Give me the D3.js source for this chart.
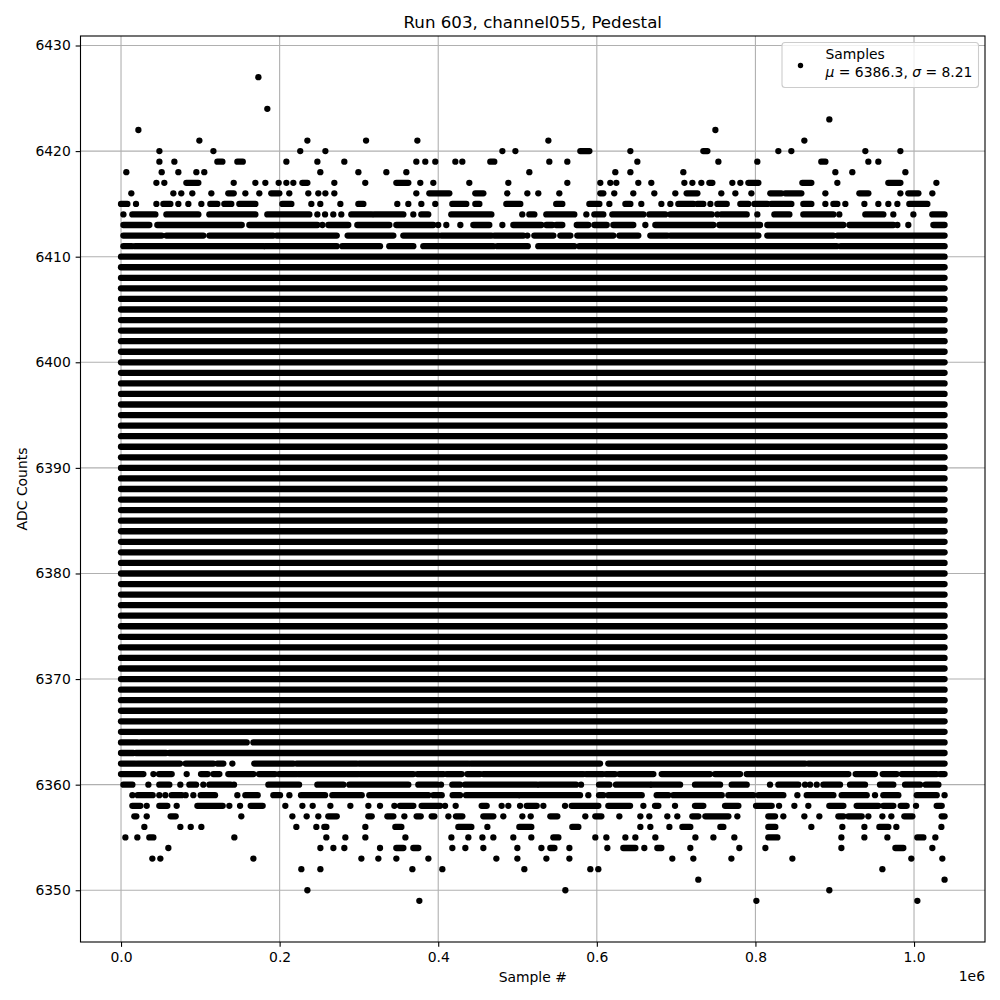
<!DOCTYPE html>
<html><head><meta charset="utf-8">
<script src="https://cdn.jsdelivr.net/npm/d3@7"></script>
<style>body{margin:0;background:#fff}</style>
</head><body><svg id="c" width="1000" height="1000"></svg>
<script>
// ---------------- data ----------------
const titleText = "Run 603, channel055, Pedestal";
const xLabel = "Sample #";
const yLabel = "ADC Counts";
const xOffsetLabel = "1e6";
const legendLine1 = "Samples";
const legendMu = "6386.3";
const legendSigma = "8.21";
const xTicks = [0.0, 0.2, 0.4, 0.6, 0.8, 1.0];           // in units of 1e6 samples
const yTicks = [6350, 6360, 6370, 6380, 6390, 6400, 6410, 6420, 6430];
// ADC levels occupied continuously over the whole run
const solidLevels = [6365,6366,6367,6368,6369,6370,6371,6372,6373,6374,6375,6376,6377,6378,6379,6380,
  6381,6382,6383,6384,6385,6386,6387,6388,6389,6390,6391,6392,6393,6394,6395,6396,6397,6398,6399,6400,
  6401,6402,6403,6404,6405,6406,6407,6408,6409,6410];
const runSpan = [0, 1.0385];   // first / last sample (x 1e6)
// sparse levels: number = isolated sample, [a,b] = run of overlapping samples (x 1e6)
const upperRows = [
 [6411, [[0.003,0.0135],[0.0177,0.1795],[0.182,0.272],[0.279,0.3266],[0.3383,0.3686],[0.3812,0.4695],[0.4745,0.5129],[0.5262,0.5716],[0.5779,0.9025],[0.9075,1.0385]]],
 [6412, [[0.003,0.0513],[0.0572,0.1038],[0.1114,0.192],[0.1963,0.272],[0.2858,0.3434],[0.356,0.4001],[0.4039,0.467],[0.4707,0.5073],0.5124,[0.5212,0.5452],[0.554,0.5666],[0.5754,0.6208],[0.6284,0.6523],[0.6675,0.6889],[0.6927,0.8037],[0.815,0.8983],[0.9033,1.0385]]],
 [6413, [[0.003,0.0357],[0.0458,0.1522],[0.1618,0.2476],0.2539,[0.2614,0.2866],[0.298,0.3384],[0.3472,0.3938],0.4,0.4102,0.4279,[0.4443,0.4644],0.4809,[0.4947,0.53],[0.5363,0.5439],[0.5488,0.5565],[0.5747,0.5893],[0.5969,0.6125],[0.6208,0.646],0.6612,[0.6738,0.747],[0.7545,0.8058],[0.815,0.9109],[0.9185,0.9739],0.979,0.9928,[1.0244,1.0385]]],
 [6414, [0.003,[0.0143,0.0433],[0.0572,0.0975],[0.1114,0.1694],[0.1845,0.2375],0.2476,0.2573,0.2677,0.2778,[0.2904,0.3161],[0.3195,0.356],0.3686,[0.3787,0.3874],[0.4165,0.467],0.506,[0.5149,0.5212],[0.5363,0.5716],0.5868,[0.5969,0.6082],[0.6196,0.6587],[0.6662,0.6864],[0.6927,0.7449],0.752,[0.757,0.789],0.8024,[0.8239,0.8428],[0.8604,0.8983],0.9058,[0.9386,0.9613],0.9739,0.9992,[1.0231,1.0385]]],
 [6415, [[0.0,0.008],0.0189,0.0446,[0.0534,0.0622],0.0723,0.0849,0.1013,[0.1126,0.1215],[0.1303,0.1391],[0.1492,0.1694],[0.2034,0.2148],0.24,0.2513,0.2766,[0.2993,0.3056],0.3484,0.3623,0.3787,0.3963,[0.4178,0.4354],[0.4468,0.4519],[0.4859,0.5035],[0.5488,0.5565],[0.5906,0.6032],0.6158,[0.636,0.6423],0.6561,0.6814,0.6927,[0.7028,0.7217],[0.7268,0.7343],0.7432,[0.752,0.7638],[0.781,0.7911],[0.7987,0.815],[0.8201,0.8453],[0.8604,0.8705],0.8882,[0.8983,0.9033],0.9134,0.9374,0.955,0.9676,0.979,[0.9941,1.0168]]],
 [6416, [0.013,0.066,0.076,0.0899,0.1139,[0.1353,0.1421],0.1568,0.1744,[0.1895,0.1996],0.2122,0.2362,0.2488,0.2577,0.269,0.3724,[0.3888,0.414],[0.4468,0.4569],0.4871,0.5124,0.5262,0.5527,[0.6044,0.6082],0.622,0.646,0.6725,0.699,[0.7133,0.7268],0.757,0.7747,0.7949,[0.8188,0.8327],[0.8377,0.8579],0.8882,[0.9311,0.9424],0.9828,[0.9928,1.0055],1.0231]],
 [6417, [0.0446,0.0546,[0.0824,0.0975],0.1421,0.1694,0.182,0.1988,0.2085,0.2173,[0.2287,0.235],0.269,0.308,[0.3472,0.3623],0.3774,0.3938,0.4392,0.4884,0.5628,0.6044,0.617,0.6246,0.6523,0.6687,0.7104,0.7205,0.7318,[0.7419,0.7457],0.7709,0.781,[0.7911,0.8037],[0.8592,0.8705],0.9033,[0.9676,0.9828],1.0282]],
 [6418, [0.0067,0.0513,0.0723,0.095,0.105,0.2513,0.2993,0.3346,0.3598,0.5149,0.6233,0.6423,0.7091,0.9008,0.9222,0.9891]],
 [6419, [0.0484,0.0673,[0.1215,0.1278],[0.1467,0.1535],0.2085,0.2476,0.2816,0.3724,0.3837,0.3963,0.4216,0.4304,[0.4657,0.4707],0.5401,0.5628,0.6511,0.7533,0.8024,[0.8831,0.8882],0.9424,0.955]],
 [6420, [0.0484,0.1165,0.226,0.2577,0.4809,0.4973,[0.5792,0.5906],0.6423,[0.7343,0.7394],0.8289,0.8453,0.9386,0.9828]],
 [6421, [0.0988,0.235,0.309,0.3737,0.5389,0.8617]],
 [6422, [0.0219,0.7495]],
 [6423, [0.8932]],
 [6424, [0.1845]],
 [6427, [0.1732]]
];
const lowerRows = [
 [6364, [[0,0.0206],[0.0248,0.1585],[0.1669,1.0385]]],
 [6363, [[0,0.0156],[0.0189,0.0567],[0.0609,1.0385]]],
 [6362, [[0,0.0177],[0.0206,0.0744],[0.0815,0.1164],[0.1215,0.129],0.1404,[0.1681,0.2173],[0.2215,0.2972],[0.3005,0.438],[0.441,0.604],[0.6145,0.8626],[0.8667,1.0385]]],
 [6361, [[0,0.0282],0.0408,[0.0479,0.0639],0.0828,[0.1009,0.1093],[0.1164,0.124],[0.1353,0.1669],[0.174,0.1942],[0.1992,0.2215],[0.2236,0.2993],[0.3014,0.3686],[0.3737,0.4065],[0.4107,0.4296],[0.4367,0.4527],[0.4569,0.583],[0.5864,0.6074],[0.6116,0.623],[0.6284,0.6713],[0.6818,0.7427],[0.749,0.7806],[0.789,0.9172],[0.9264,0.9508],[0.9605,0.9781],[0.9845,1.0286],[1.0328,1.0385]]],
 [6360, [[0.003,0.0143],0.0345,[0.0483,0.0609],0.0748,[0.0862,0.0946],0.1038,[0.1114,0.1383],0.1425,[0.1858,0.2245],[0.2476,0.2804],[0.2879,0.3623],[0.3749,0.3989],0.4035,[0.4178,0.4275],[0.4338,0.5242],[0.5275,0.5738],0.5801,[0.6028,0.6158],[0.6242,0.6671],[0.6692,0.705],[0.7238,0.7554],[0.7701,0.789],0.8184,[0.8289,0.8541],0.8626,0.8689,0.8773,[0.8857,0.9067],[0.9193,0.9382],[0.9571,0.9739],[0.9887,1.0076],[1.0147,1.0307]]],
 [6359, [0.0143,[0.021,0.0399],0.0483,0.0559,[0.0639,0.0765],0.0815,0.0912,[0.1005,0.1185],0.1467,[0.1568,0.1723],[0.1921,0.2005],0.2123,[0.227,0.2573],[0.2665,0.3035],[0.3131,0.3876],[0.3939,0.4044],[0.4182,0.4275],[0.4351,0.501],[0.5032,0.5788],0.5893,[0.6028,0.6082],[0.6145,0.6566],[0.6755,0.6902],[0.6965,0.7575],[0.7659,0.7974],[0.8037,0.8352],0.8529,[0.8647,0.8983],[0.9088,0.9403],0.9508,[0.9613,0.9802],[1.0034,1.0286],1.0385]],
 [6358, [[0.0143,0.0244],0.0324,[0.0483,0.0584],0.0702,[0.0963,0.1282],0.1366,0.1501,[0.1635,0.1786],0.2072,0.2287,0.2417,0.264,0.2892,0.3119,0.3266,0.3447,[0.3518,0.3686],[0.3791,0.4023],0.4086,0.422,[0.4548,0.4611],0.48,0.4884,0.5032,[0.5116,0.5242],0.5326,0.5599,[0.5683,0.6019],[0.6145,0.6419],0.6587,[0.6734,0.6776],0.6986,[0.7238,0.7343],[0.7617,0.7785],[0.8008,0.8205],0.8298,0.8491,0.8667,[0.8932,0.9109],[0.9277,0.955],[0.9613,0.9739],[0.9832,0.9907],1.0025,[1.0286,1.0349]]],
 [6357, [[0.0168,0.0193],0.0324,[0.0626,0.0689],0.1517,0.2161,0.2341,0.2488,[0.2614,0.272],[0.3119,0.3161],[0.3359,0.3434],0.3573,[0.3728,0.3779],[0.3918,0.3951],0.4128,[0.4224,0.4304],[0.4569,0.4695],0.4821,0.5061,0.5166,[0.5414,0.5502],0.5855,[0.5981,0.6057],0.6284,0.6549,0.6662,0.6889,0.7015,[0.7205,0.728],[0.7369,0.7659],0.7772,[0.8163,0.8247],0.8352,0.8617,0.8806,[0.9046,0.9109],[0.9172,0.934],0.9424,0.9601,0.9714,[0.9878,0.9979],[1.0349,1.0385]]],
 [6356, [0.0294,0.0748,0.0879,0.1013,0.2211,0.2463,[0.2564,0.2589],0.3081,[0.3459,0.3535],[0.4254,0.4418],0.462,[0.5023,0.5174],[0.5691,0.5767],0.6549,0.6675,0.6915,[0.7079,0.7179],[0.7558,0.7596],[0.8163,0.8251],0.8705,0.9096,0.9374,[0.9563,0.9676],0.9777,1.0345]],
 [6355, [0.0055,0.0206,[0.0357,0.0408],0.1429,0.2589,0.2829,0.3081,0.3586,0.4166,0.438,0.4557,0.4695,0.4947,0.5174,[0.5452,0.5515],0.5981,0.612,0.636,0.6486,0.6738,0.7243,0.747,0.7734,[0.8163,0.8277],0.9084,0.9374,0.9664,[1.0042,1.0118],1.0269]],
 [6354, [0.0597,0.2514,0.2678,0.2816,0.3266,[0.3472,0.356],[0.3686,0.3749],0.4178,0.4342,0.4569,0.4998,0.5301,[0.5414,0.5465],0.5654,0.6133,[0.6334,0.6486],0.6599,[0.6763,0.6814],0.7179,0.7797,0.8125,0.9084,[0.9765,0.9865],1.0231]],
 [6353, [0.0395,0.0496,0.1669,0.3031,0.3245,0.3472,0.3876,0.4733,0.4998,0.5364,0.5654,0.6952,0.7217,0.7697,0.8466,0.9966,1.0357]],
 [6352, [0.2274,0.2514,0.3674,0.4052,0.5086,0.5918,0.6019,0.9601]],
 [6351, [0.728,1.0385]],
 [6350, [0.235,0.5603,0.8932]],
 [6349, [0.3762,0.8012,1.0042]]
];

// ---------------- drawing ----------------
const W = 1000, H = 1000;
const FONT = "'DejaVu Sans', 'Liberation Sans', sans-serif";
const box = {l: 80.5, r: 985, t: 36, b: 942};
const R = 3.15;   // marker radius
const svg = d3.select("#c");
svg.append("rect").attr("width", W).attr("height", H).attr("fill", "#fff");

const x = d3.scaleLinear().domain([-0.0511, 1.0895]).range([box.l, box.r]);
const y = d3.scaleLinear().domain([6345.1, 6430.9]).range([box.b, box.t]);

// grid
const grid = svg.append("g").attr("stroke", "#b0b0b0").attr("stroke-width", 1.1);
grid.selectAll("line.gx").data(xTicks).join("line")
  .attr("x1", d => x(d)).attr("x2", d => x(d)).attr("y1", box.t).attr("y2", box.b);
grid.selectAll("line.gy").data(yTicks).join("line")
  .attr("y1", d => y(d)).attr("y2", d => y(d)).attr("x1", box.l).attr("x2", box.r);

// data
const clip = svg.append("clipPath").attr("id", "clipA").append("rect")
  .attr("x", box.l).attr("y", box.t).attr("width", box.r - box.l).attr("height", box.b - box.t);
const dataG = svg.append("g").attr("clip-path", "url(#clipA)");

const runs = [], dots = [];
solidLevels.forEach(v => runs.push({v, a: runSpan[0], b: runSpan[1]}));
upperRows.concat(lowerRows).forEach(([v, items]) => {
  items.forEach(it => {
    if (Array.isArray(it)) runs.push({v, a: it[0], b: it[1]});
    else dots.push({v, a: it});
  });
});
dataG.selectAll("line.run").data(runs).join("line")
  .attr("x1", d => x(d.a)).attr("x2", d => x(d.b))
  .attr("y1", d => y(d.v)).attr("y2", d => y(d.v))
  .attr("stroke", "#000").attr("stroke-width", 2 * R).attr("stroke-linecap", "round");
dataG.selectAll("circle.dot").data(dots).join("circle")
  .attr("cx", d => x(d.a)).attr("cy", d => y(d.v)).attr("r", R).attr("fill", "#000");

// frame
svg.append("rect").attr("x", box.l).attr("y", box.t).attr("width", box.r - box.l).attr("height", box.b - box.t)
  .attr("fill", "none").attr("stroke", "#000").attr("stroke-width", 1.1);

// axes
const tickLen = 4.86, tickPad = 4.86, fs = 13.9;
const xAxis = svg.append("g").attr("transform", `translate(0,${box.b})`)
  .call(d3.axisBottom(x).tickValues(xTicks).tickFormat(d3.format(".1f")).tickSize(tickLen).tickPadding(tickPad).tickSizeOuter(0));
const yAxis = svg.append("g").attr("transform", `translate(${box.l},0)`)
  .call(d3.axisLeft(y).tickValues(yTicks).tickFormat(d3.format("d")).tickSize(tickLen).tickPadding(tickPad).tickSizeOuter(0));
[xAxis, yAxis].forEach(g => {
  g.select(".domain").remove();
  g.attr("font-family", FONT).attr("font-size", fs);
  g.selectAll(".tick line").attr("stroke", "#000").attr("stroke-width", 1.1);
  g.selectAll(".tick text").attr("fill", "#000");
});

// labels
svg.append("text").attr("x", (box.l + box.r) / 2).attr("y", 27.5).attr("text-anchor", "middle")
  .attr("font-family", FONT).attr("font-size", 16.67).text(titleText);
svg.append("text").attr("x", (box.l + box.r) / 2).attr("y", 982).attr("text-anchor", "middle")
  .attr("font-family", FONT).attr("font-size", fs).text(xLabel);
svg.append("text").attr("transform", `translate(26.5,${(box.t + box.b) / 2}) rotate(-90)`).attr("text-anchor", "middle")
  .attr("font-family", FONT).attr("font-size", fs).text(yLabel);
svg.append("text").attr("x", box.r).attr("y", 981).attr("text-anchor", "end")
  .attr("font-family", FONT).attr("font-size", fs).text(xOffsetLabel);

// legend
const lg = svg.append("g");
lg.append("rect").attr("x", 782).attr("y", 42.5).attr("width", 196.5).attr("height", 45).attr("rx", 3)
  .attr("fill", "#fff").attr("fill-opacity", 0.8).attr("stroke", "#cccccc").attr("stroke-width", 1.1);
lg.append("circle").attr("cx", 800.5).attr("cy", 65.5).attr("r", 2.7).attr("fill", "#000");
lg.append("text").attr("x", 825.5).attr("y", 59).attr("font-family", FONT).attr("font-size", fs).text(legendLine1);
const t2 = lg.append("text").attr("x", 825.5).attr("y", 76.5).attr("font-family", FONT).attr("font-size", fs);
t2.append("tspan").attr("font-style", "italic").text("μ");
t2.append("tspan").text(" = " + legendMu + ", ");
t2.append("tspan").attr("font-style", "italic").text("σ");
t2.append("tspan").text(" = " + legendSigma);
</script>
</body></html>
